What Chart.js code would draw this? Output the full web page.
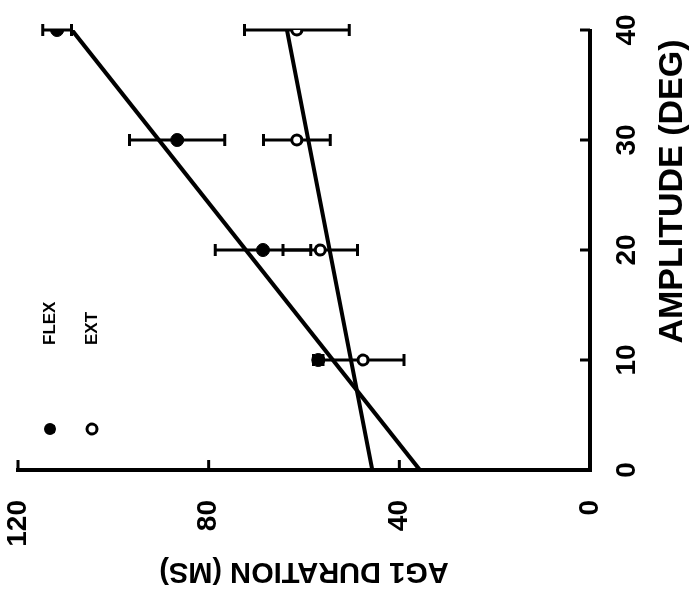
<!DOCTYPE html>
<html>
<head>
<meta charset="utf-8">
<script src="https://cdn.jsdelivr.net/npm/chart.js@4"></script>
<style>
  html, body { margin: 0; padding: 0; background: #fff; }
  #page { position: relative; width: 697px; height: 592px; overflow: hidden; }
  /* the figure is printed turned on its side, so the upright chart is rotated */
  #turn {
    position: absolute; left: 0; top: 0;
    width: 592px; height: 697px;
    transform-origin: 0 0;
    transform: translate(0, 592px) rotate(-90deg);
  }
</style>
</head>
<body>
<div id="page">
  <div id="turn"><canvas id="chart" width="592" height="697"></canvas></div>
</div>
<script>
const amplitudes = [10, 20, 30, 40];
const flexMeans = [57, 68.6, 86.6, 111.8];
const flexErr = [1, 10, 10, 3];
const extMeans = [47.6, 56.6, 61.5, 61.5];
const extErr = [8.6, 7.8, 7, 11];

const fitAmps = [0, 40];
const flexFit = [35.7, 108.7];
const extFit = [45.7, 63.6];

const ampTicks = [0, 10, 20, 30, 40];
const durTicks = [0, 40, 80, 120];

const legendNames = ["FLEX", "EXT"];

const fontFamily = "'Liberation Sans', Arial, sans-serif";

function toPoints(xs, ys) {
  return xs.map((x, i) => ({ x: x, y: ys[i] }));
}

const errorBars = [
  { means: flexMeans, errs: flexErr },
  { means: extMeans, errs: extErr },
];

const extrasPlugin = {
  id: "extras",
  beforeDatasetsDraw(chart) {
    const { ctx, scales } = chart;
    const xs = scales.x, ys = scales.y;
    ctx.save();
    ctx.strokeStyle = "#000";
    ctx.lineWidth = 3;
    errorBars.forEach((set) => {
      amplitudes.forEach((a, i) => {
        const px = xs.getPixelForValue(a);
        const lo = ys.getPixelForValue(set.means[i] - set.errs[i]);
        const hi = ys.getPixelForValue(set.means[i] + set.errs[i]);
        ctx.beginPath();
        ctx.moveTo(px, lo);
        ctx.lineTo(px, hi);
        ctx.moveTo(px - 6, lo);
        ctx.lineTo(px + 6, lo);
        ctx.moveTo(px - 6, hi);
        ctx.lineTo(px + 6, hi);
        ctx.stroke();
      });
    });
    ctx.restore();
  },
  afterDraw(chart) {
    const { ctx, scales, chartArea } = chart;
    const xs = scales.x, ys = scales.y;
    ctx.save();
    ctx.strokeStyle = "#000";
    ctx.lineWidth = 3;
    // inward tick marks
    ampTicks.forEach((t) => {
      if (t === 0) return;
      const px = xs.getPixelForValue(t);
      ctx.beginPath();
      ctx.moveTo(px, chartArea.bottom);
      ctx.lineTo(px, chartArea.bottom - 10);
      ctx.stroke();
    });
    durTicks.forEach((t) => {
      if (t === 0) return;
      const py = ys.getPixelForValue(t);
      ctx.beginPath();
      ctx.moveTo(chartArea.left, py);
      ctx.lineTo(chartArea.left + 10, py);
      ctx.stroke();
    });

    // legend
    const lx = chartArea.left + 41;
    const tx = chartArea.left + 125;
    const rows = [50, 92];
    ctx.fillStyle = "#000";
    ctx.beginPath();
    ctx.arc(lx, rows[0], 6, 0, Math.PI * 2);
    ctx.fill();
    ctx.beginPath();
    ctx.arc(lx, rows[1], 5, 0, Math.PI * 2);
    ctx.fillStyle = "#fff";
    ctx.fill();
    ctx.lineWidth = 3;
    ctx.stroke();
    ctx.fillStyle = "#000";
    ctx.font = "bold 17px " + fontFamily;
    ctx.textAlign = "left";
    ctx.textBaseline = "middle";
    legendNames.forEach((n, i) => ctx.fillText(n, tx, rows[i]));
    ctx.restore();
  },
};

new Chart(document.getElementById("chart"), {
  type: "scatter",
  data: {
    datasets: [
      {
        label: "FLEX fit",
        data: toPoints(fitAmps, flexFit),
        showLine: true,
        borderColor: "#000",
        borderWidth: 4,
        pointRadius: 0,
      },
      {
        label: "EXT fit",
        data: toPoints(fitAmps, extFit),
        showLine: true,
        borderColor: "#000",
        borderWidth: 4,
        pointRadius: 0,
      },
      {
        label: "FLEX",
        data: toPoints(amplitudes, flexMeans),
        pointRadius: 6.5,
        pointBackgroundColor: "#000",
        pointBorderColor: "#000",
        pointBorderWidth: 1,
      },
      {
        label: "EXT",
        data: toPoints(amplitudes, extMeans),
        pointRadius: 5,
        pointBackgroundColor: "#fff",
        pointBorderColor: "#000",
        pointBorderWidth: 3,
      },
    ],
  },
  options: {
    responsive: false,
    animation: false,
    layout: { padding: { left: 0, right: 30, top: 18, bottom: 0 } },
    plugins: { legend: { display: false }, tooltip: { enabled: false } },
    scales: {
      x: {
        type: "linear",
        min: 0,
        max: 40,
        afterFit: (s) => {
          s.height = 107;
          s.paddingLeft = 0;
          s.paddingRight = 0;
        },
        afterBuildTicks: (s) => { s.ticks = ampTicks.map((v) => ({ value: v })); },
        grid: { display: true, drawOnChartArea: false, drawTicks: false },
        border: { display: true, color: "#000", width: 4 },
        ticks: {
          color: "#000",
          padding: 20,
          maxRotation: 0,
          font: { family: fontFamily, size: 28, weight: "bold" },
        },
        title: {
          display: true,
          text: "AMPLITUDE (DEG) ",
          align: "end",
          color: "#000",
          padding: { top: 0, bottom: 4 },
          font: { family: fontFamily, size: 34, weight: "bold" },
        },
      },
      y: {
        type: "linear",
        min: 0,
        max: 120,
        afterFit: (s) => {
          s.width = 122;
          s.paddingTop = 0;
          s.paddingBottom = 0;
        },
        afterBuildTicks: (s) => { s.ticks = durTicks.map((v) => ({ value: v })); },
        grid: { display: true, drawOnChartArea: false, drawTicks: false },
        border: { display: true, color: "#000", width: 4 },
        ticks: {
          color: "#000",
          padding: 30,
          font: { family: fontFamily, size: 28, weight: "bold" },
        },
        title: {
          display: true,
          text: "AG1 DURATION (MS)",
          color: "#000",
          padding: { top: 4, bottom: 0 },
          font: { family: fontFamily, size: 29, weight: "bold" },
        },
      },
    },
  },
  plugins: [extrasPlugin],
});
</script>
</body>
</html>
